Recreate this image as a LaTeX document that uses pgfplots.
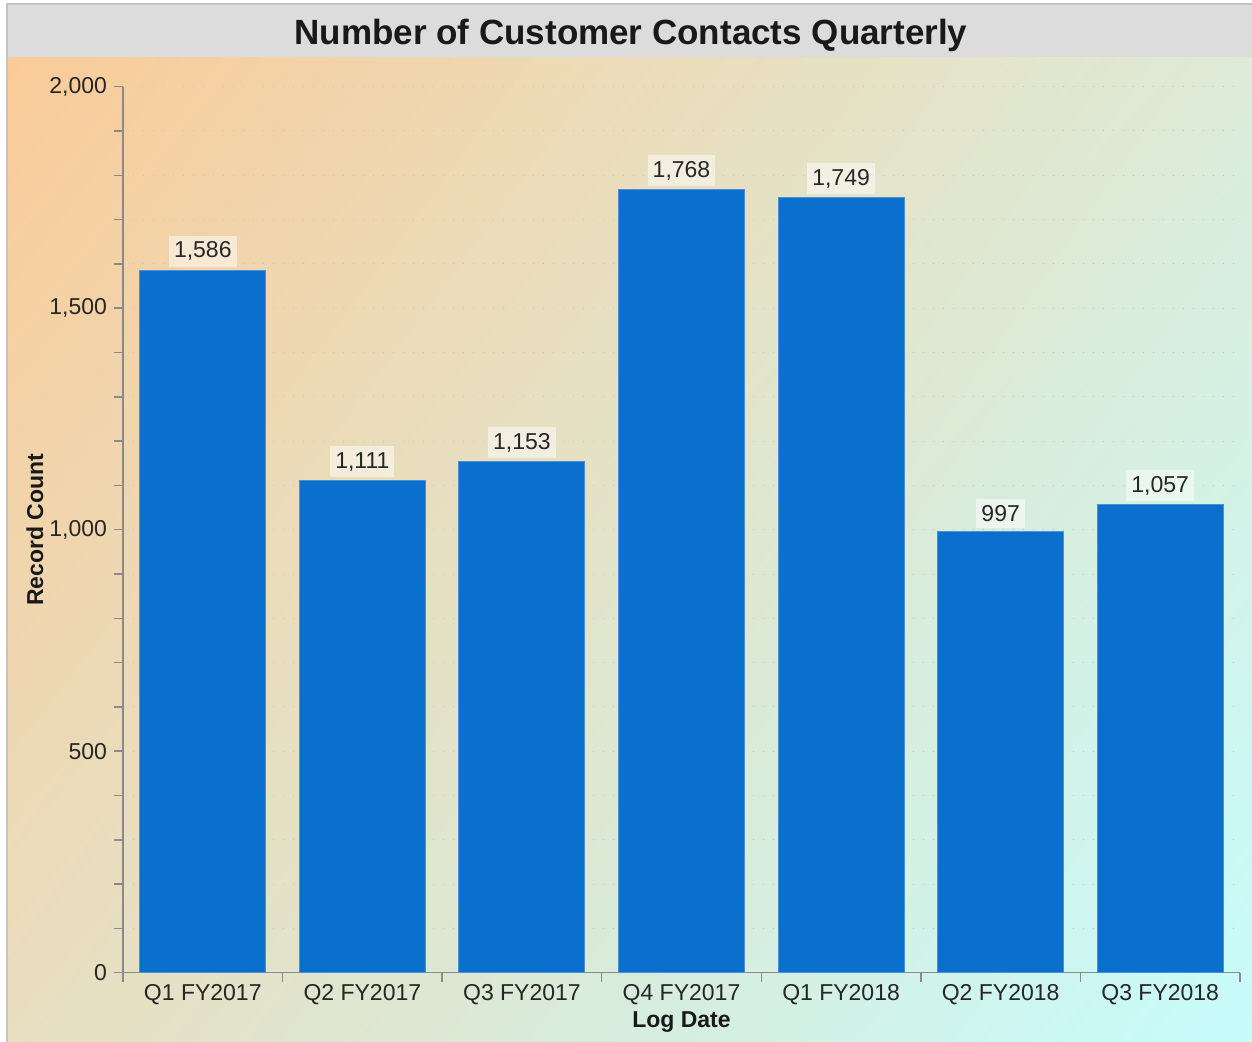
\documentclass[border=0pt]{standalone}
\usepackage{fontspec}
\setmainfont{Liberation Sans}
\setsansfont{Liberation Sans}
\usepackage{pgfplots}
\pgfplotsset{compat=1.18}
\usetikzlibrary{shadings}

\definecolor{barblue}{HTML}{0B6FCE}
\definecolor{baredge}{HTML}{4A90D9}
\definecolor{axgray}{HTML}{8A8A8A}
\definecolor{titlebg}{HTML}{DCDCDC}
\definecolor{framegray}{HTML}{C4C4C4}
\definecolor{bgul}{HTML}{FACB98}
\definecolor{bgur}{HTML}{DDEBD8}
\definecolor{bgll}{HTML}{E8DEC0}
\definecolor{bglr}{HTML}{C6FCFC}

\begin{document}
\begin{tikzpicture}
% background, title bar (1 px = 0.5pt)
\begin{scope}[x=0.5pt,y=-0.5pt]
\path[use as bounding box, fill=white] (0,0) rectangle (1252,1042);
\shade[upper left=bgul, upper right=bgur, lower left=bgll, lower right=bglr] (7,57) rectangle (1252,1042);
\fill[titlebg] (7,4) rectangle (1252,57);
\draw[framegray, line width=1pt] (7,1042) -- (7,4) -- (1252,4);
\node[anchor=base, font=\bfseries\fontsize{17.5}{20}\selectfont, text=black!90] at (631,44.5) {Number of Customer Contacts Quarterly};
\end{scope}

\begin{axis}[
    at={(61.5pt,-486.35pt)}, anchor=south west,
    scale only axis, width=558.5pt, height=443pt,
    ybar, bar width=0.79,
    xmin=-0.5, xmax=6.5, ymin=0, ymax=2000,
    axis lines=left,
    axis line style={axgray, -, line width=0.75pt},
    tick style={axgray, line width=0.75pt},
    tick align=outside,
    major tick length=4.5pt, minor tick length=4.5pt,
    xtick={-0.5,0.5,1.5,2.5,3.5,4.5,5.5,6.5},
    xticklabels={},
    extra x ticks={0,1,2,3,4,5,6},
    extra x tick labels={Q1 FY2017,Q2 FY2017,Q3 FY2017,Q4 FY2017,Q1 FY2018,Q2 FY2018,Q3 FY2018},
    extra x tick style={major tick length=0pt, grid=none,
        xticklabel style={yshift=-2.5pt}},
    ytick={0,500,1000,1500,2000},
    minor y tick num=4,
    ymajorgrids, yminorgrids,
    major grid style={black!22, line width=0.5pt, dash pattern=on 0.5pt off 4.5pt},
    minor grid style={black!22, line width=0.5pt, dash pattern=on 0.5pt off 4.5pt},
    tick label style={font=\fontsize{11.5}{13}\selectfont, text=black!85},
    /pgf/number format/1000 sep={,},
    /pgf/number format/assume math mode=true,
    xlabel={Log Date}, ylabel={Record Count},
    every axis y label/.style={at={(axis description cs:-0.0788,0.5)}, anchor=center, rotate=90,
        font=\bfseries\fontsize{11.5}{13}\selectfont, text=black!90},
    every axis x label/.style={at={(axis description cs:0.5,-0.0556)}, anchor=center,
        font=\bfseries\fontsize{11.5}{13}\selectfont, text=black!90},
    nodes near coords,
    every node near coord/.append style={font=\fontsize{11.5}{13}\selectfont, text=black!85,
        fill=white, fill opacity=0.5, text opacity=1, inner xsep=2.5pt, inner ysep=3pt,
        anchor=south, yshift=1.5pt},
]
\addplot[fill=barblue, draw=baredge, line width=0.5pt] coordinates {
    (0,1586) (1,1111) (2,1153) (3,1768) (4,1749) (5,997) (6,1057)
};
\end{axis}
\end{tikzpicture}
\end{document}
